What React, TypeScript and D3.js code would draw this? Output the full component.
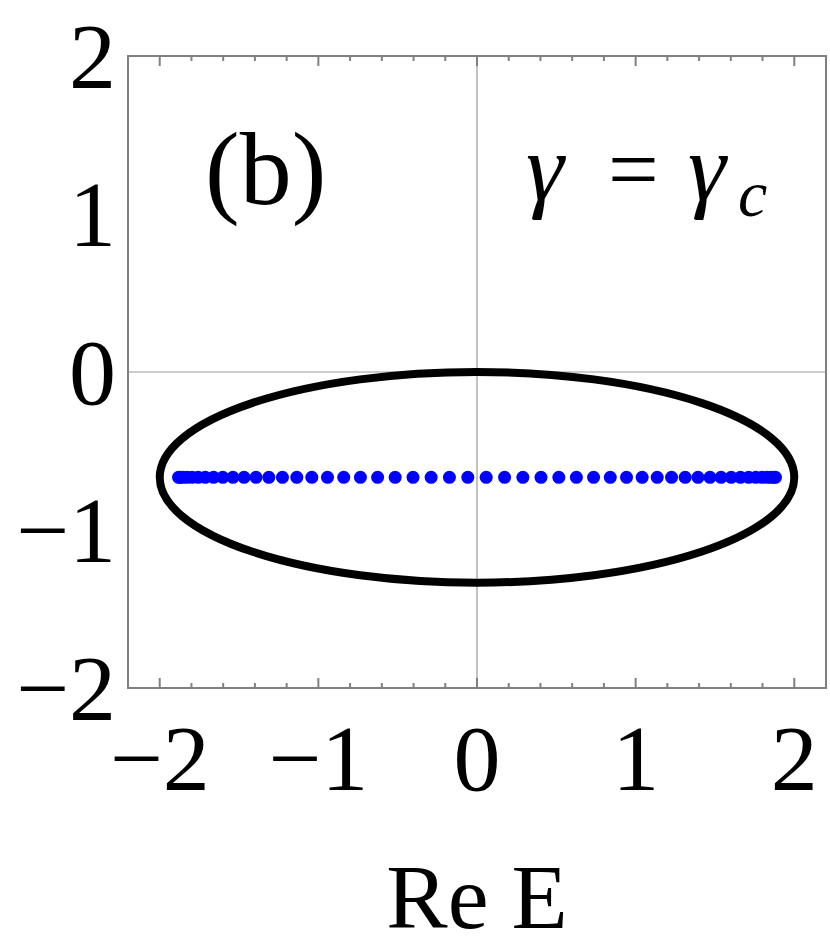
import * as d3 from 'd3';

// eigenvalues (Re E), all at Im E = -2/3
const dotRe = [
  1.8814, 1.8707, 1.8529, 1.8281, 1.7963, 1.7577, 1.7125, 1.6607, 1.6027, 1.5385,
  1.4686, 1.3930, 1.3122, 1.2264, 1.1360, 1.0412, 0.9425, 0.8402, 0.7348, 0.6265,
  0.5159, 0.4033, 0.2891, 0.1739, 0.0580, -0.0580, -0.1739, -0.2891, -0.4033, -0.5159,
  -0.6265, -0.7348, -0.8402, -0.9425, -1.0412, -1.1360, -1.2264, -1.3122, -1.3930, -1.4686,
  -1.5385, -1.6027, -1.6607, -1.7125, -1.7577, -1.7963, -1.8281, -1.8529, -1.8707, -1.8814,
];
const dotIm = -0.6667;

// ellipse (PBC spectrum)
const ellipseCenter = [0, -0.6667];
const ellipseRadii = [2, 0.6667];

const xTicks = [-2, -1, 0, 1, 2];
const yTicks = [-2, -1, 0, 1, 2];
const xTickLabels = ['\u22122', '\u22121', '0', '1', '2'];
const yTickLabels = ['\u22122', '\u22121', '0', '1', '2'];
const xMinor = [-2.2, -1.8, -1.6, -1.4, -1.2, -0.8, -0.6, -0.4, -0.2, 0.2, 0.4, 0.6, 0.8, 1.2, 1.4, 1.6, 1.8, 2.2];

const W = 830;
const H = 950;
const left = 128, right = 826, top = 56, bottom = 688;

export default function App() {
  const x = d3.scaleLinear().domain([-2.2, 2.2]).range([left, right]);
  const y = d3.scaleLinear().domain([-2, 2]).range([bottom, top]);
  const gray = '#808080';
  const font = '"Liberation Serif", "Times New Roman", serif';

  return (
    <svg width={W} height={H} style={{ position: 'absolute', left: 0, top: 0, background: '#fff' }}>
      <rect width={W} height={H} fill="#fff" />
      {/* zero axes */}
      <line x1={x(0)} x2={x(0)} y1={top} y2={bottom} stroke="#999" strokeWidth={1.2} />
      <line x1={left} x2={right} y1={y(0)} y2={y(0)} stroke="#999" strokeWidth={1.2} />

      {/* ticks, top and bottom only */}
      {xTicks.map(t => (
        <g key={'xt' + t}>
          <line x1={x(t)} x2={x(t)} y1={bottom} y2={bottom - 10} stroke={gray} strokeWidth={2} />
          <line x1={x(t)} x2={x(t)} y1={top} y2={top + 10} stroke={gray} strokeWidth={2} />
        </g>
      ))}
      {xMinor.map(t => (
        <g key={'xm' + t}>
          <line x1={x(t)} x2={x(t)} y1={bottom} y2={bottom - 5} stroke={gray} strokeWidth={2} />
          <line x1={x(t)} x2={x(t)} y1={top} y2={top + 5} stroke={gray} strokeWidth={2} />
        </g>
      ))}

      {/* frame */}
      <rect x={left} y={top} width={right - left} height={bottom - top} fill="none" stroke={gray} strokeWidth={2} />

      {/* ellipse */}
      <ellipse
        cx={x(ellipseCenter[0])}
        cy={y(ellipseCenter[1])}
        rx={x(ellipseRadii[0]) - x(0)}
        ry={y(0) - y(ellipseRadii[1])}
        fill="none"
        stroke="#000"
        strokeWidth={8}
      />

      {/* eigenvalue dots */}
      {dotRe.map((d, i) => (
        <circle key={i} cx={x(d)} cy={y(dotIm)} r={6.5} fill="#0000ff" />
      ))}

      {/* tick labels */}
      {xTicks.map((t, i) => (
        <text key={'xl' + t} x={x(t)} y={790} textAnchor="middle" fontFamily={font} fontSize={94}>
          {xTickLabels[i]}
        </text>
      ))}
      {yTicks.map((t, i) => (
        <text key={'yl' + t} x={116} y={y(t)} dy="0.34em" textAnchor="end" fontFamily={font} fontSize={94}>
          {yTickLabels[i]}
        </text>
      ))}

      {/* axis label */}
      <text x={x(0)} y={928} textAnchor="middle" fontFamily={font} fontSize={92}>Re E</text>

      {/* annotations */}
      <text x={205} y={204} fontFamily={font} fontSize={104}>(b)</text>
      <g fontFamily={font}>
        <text x={526} y={200} fontSize={96} fontStyle="italic">γ</text>
        <text x={608} y={200} fontSize={90}>=</text>
        <text x={688} y={200} fontSize={96} fontStyle="italic">γ</text>
        <text x={738} y={216} fontSize={66} fontStyle="italic">c</text>
      </g>
    </svg>
  );
}
